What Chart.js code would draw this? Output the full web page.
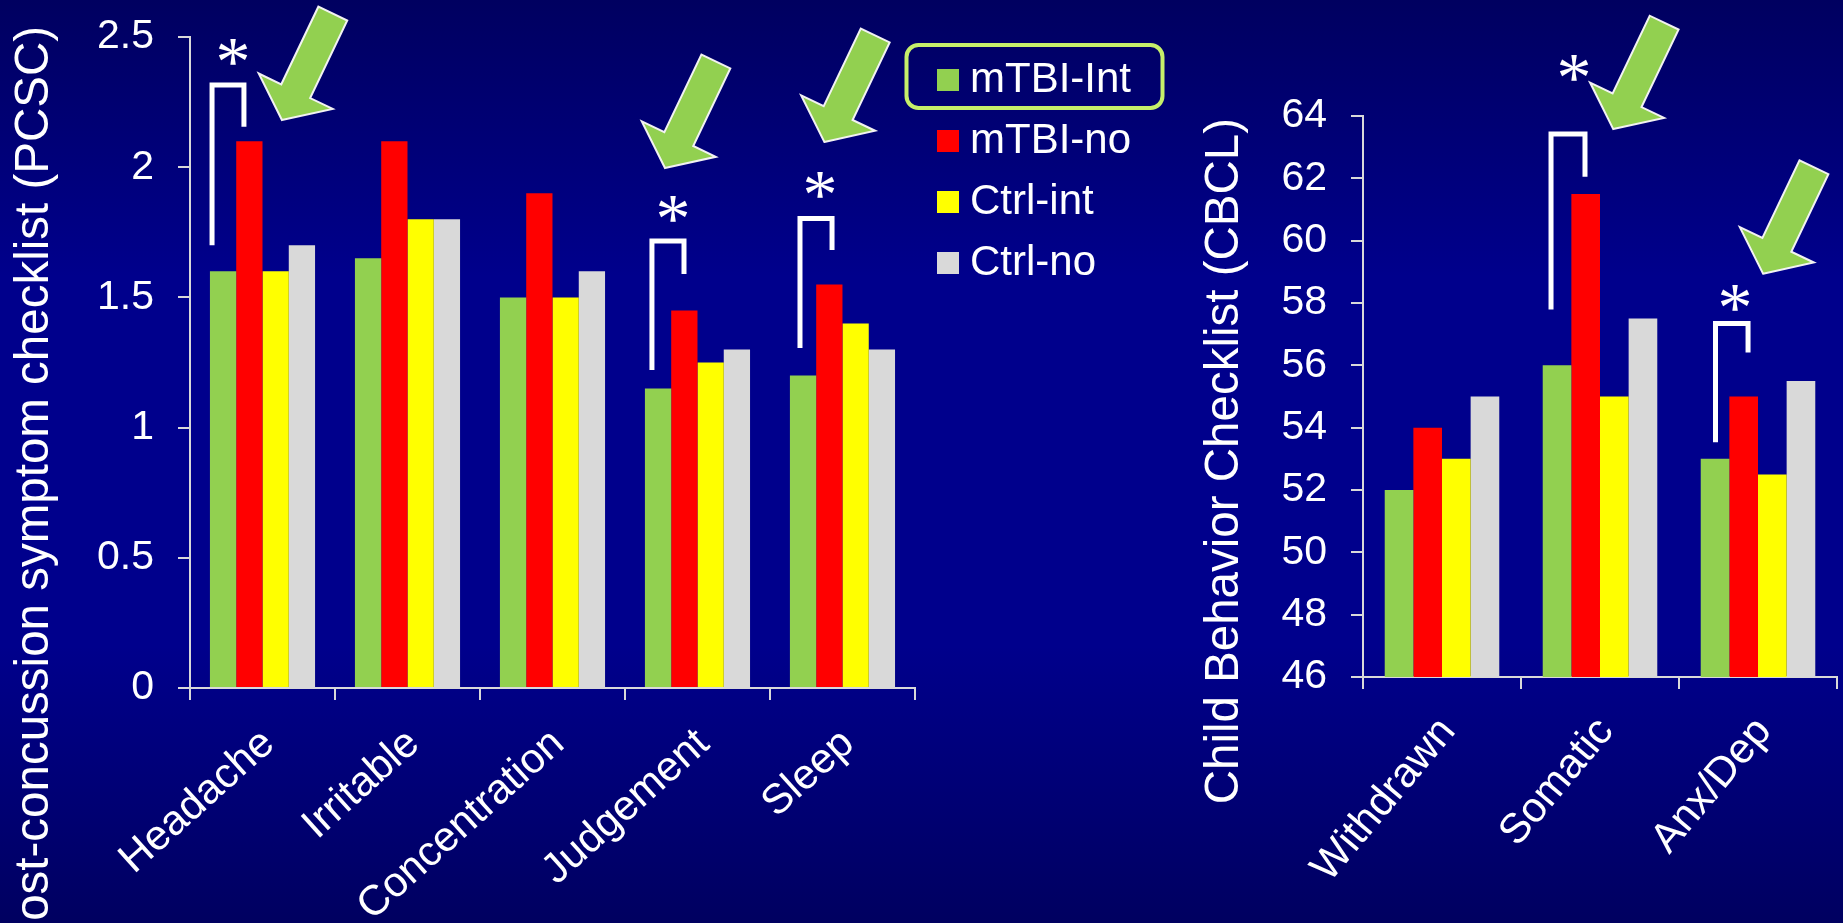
<!DOCTYPE html>
<html>
<head>
<meta charset="utf-8">
<title>PCSC and CBCL</title>
<script src="https://cdn.jsdelivr.net/npm/chart.js"></script>
<style>
  html, body { margin: 0; height: 100%; overflow: hidden; }
  body { width: 1843px; height: 923px; position: relative;
         background: linear-gradient(to bottom, #000060 0%, #00008c 30%, #00008c 70%, #000060 100%); }
  canvas { position: absolute; top: 0; }
</style>
</head>
<body>
<canvas id="pcsc" width="1180" height="923" style="left:0"></canvas>
<canvas id="cbcl" width="653" height="923" style="left:1190px"></canvas>
<script>
const seriesNames = ['mTBI-Int', 'mTBI-no', 'Ctrl-int', 'Ctrl-no'];
const seriesColors = ['#92d050', '#ff0000', '#ffff00', '#d9d9d9'];

const pcscCategories = ['Headache', 'Irritable', 'Concentration', 'Judgement', 'Sleep'];
const pcscMtbiInt = [1.6, 1.65, 1.5, 1.15, 1.2];
const pcscMtbiNo = [2.1, 2.1, 1.9, 1.45, 1.55];
const pcscCtrlInt = [1.6, 1.8, 1.5, 1.25, 1.4];
const pcscCtrlNo = [1.7, 1.8, 1.6, 1.3, 1.3];

const cbclCategories = ['Withdrawn', 'Somatic', 'Anx/Dep'];
const cbclMtbiInt = [52, 56, 53];
const cbclMtbiNo = [54, 61.5, 55];
const cbclCtrlInt = [53, 55, 52.5];
const cbclCtrlNo = [55, 57.5, 55.5];

// annotations, in data units: pos = category index + fraction of a category
const pcscBrackets = [
    { left: -0.348, right: -0.128, top: 2.316, leftEnd: 1.70, rightEnd: 2.155 },
    { left: 2.686, right: 2.907, top: 1.717, leftEnd: 1.221, rightEnd: 1.59 },
    { left: 3.707, right: 3.928, top: 1.803, leftEnd: 1.306, rightEnd: 1.682 },
];
const pcscStars = [{ pos: -0.203, val: 2.431 }, { pos: 2.831, val: 1.828 }, { pos: 3.845, val: 1.92 }];
const pcscArrows = [{ pos: 0.134, val: 2.181 }, { pos: 2.776, val: 1.997 }, { pos: 3.875, val: 2.097 }];

const cbclBrackets = [
    { left: 0.69, right: 0.905, top: 63.42, leftEnd: 57.79, rightEnd: 62.05 },
    { left: 1.731, right: 1.937, top: 57.34, leftEnd: 53.53, rightEnd: 56.41 },
];
const cbclStars = [{ pos: 0.835, val: 65.44 }, { pos: 1.854, val: 58.08 }];
const cbclArrows = [{ pos: 1.084, val: 63.58 }, { pos: 2.032, val: 58.94 }];

const fontName = '"Liberation Sans", Arial, sans-serif';
const white = '#ffffff';
const axisColor = '#d9d9d9';

// brackets, asterisks, arrows, the axis title and the box around the first legend row
const overlayPlugin = {
    id: 'overlay',
    afterLayout(chart, args, opts) {
        if (opts.legendLeft) {
            const lg = chart.legend;
            lg.left = opts.legendLeft;
            lg.right = lg.left + lg.width;
            lg.top = opts.legendTop;
        }
    },
    afterDraw(chart, args, opts) {
        const ctx = chart.ctx;
        const xs = chart.scales.x;
        const ys = chart.scales.y;
        const catWidth = xs.getPixelForValue(1) - xs.getPixelForValue(0);
        const px = pos => xs.getPixelForValue(0) + pos * catWidth;
        const py = val => ys.getPixelForValue(val);

        ctx.save();
        ctx.strokeStyle = white;
        ctx.lineWidth = 5;
        ctx.lineJoin = 'miter';
        opts.brackets.forEach(b => {
            ctx.beginPath();
            ctx.moveTo(px(b.left), py(b.leftEnd));
            ctx.lineTo(px(b.left), py(b.top));
            ctx.lineTo(px(b.right), py(b.top));
            ctx.lineTo(px(b.right), py(b.rightEnd));
            ctx.stroke();
        });

        ctx.fillStyle = white;
        ctx.font = '70px "Liberation Serif", serif';
        ctx.textAlign = 'center';
        ctx.textBaseline = 'alphabetic';
        opts.stars.forEach(s => {
            ctx.fillText('*', px(s.pos), py(s.val) + 30);
        });

        opts.arrows.forEach(a => {
            ctx.save();
            ctx.translate(px(a.pos), py(a.val));
            ctx.rotate(Math.atan2(0.43, 0.9));
            ctx.beginPath();
            ctx.moveTo(0, 0);
            ctx.lineTo(41, -32);
            ctx.lineTo(16, -32);
            ctx.lineTo(16, -118);
            ctx.lineTo(-16, -118);
            ctx.lineTo(-16, -32);
            ctx.lineTo(-41, -32);
            ctx.closePath();
            ctx.fillStyle = '#92d050';
            ctx.fill();
            ctx.strokeStyle = '#f2f2f2';
            ctx.lineWidth = 2;
            ctx.stroke();
            ctx.restore();
        });

        ctx.translate(opts.titleX, opts.titleTop);
        ctx.rotate(-Math.PI / 2);
        ctx.font = '47.5px ' + fontName;
        ctx.fillStyle = white;
        ctx.textAlign = 'right';
        ctx.textBaseline = 'middle';
        ctx.fillText(opts.title, 0, 0);
        ctx.restore();

        if (opts.legendLeft) {
            const lg = chart.legend;
            ctx.save();
            ctx.strokeStyle = '#c6ef6a';
            ctx.lineWidth = 4;
            ctx.beginPath();
            ctx.roundRect(lg.left - 21.5, lg.top + 5, 256, 63, 12);
            ctx.stroke();
            ctx.restore();
        }
    }
};

function barDatasets(values) {
    return values.map((vals, i) => ({
        label: seriesNames[i],
        data: vals,
        backgroundColor: seriesColors[i],
        categoryPercentage: 0.725,
        barPercentage: 1,
    }));
}

function makeChart(id, categories, values, yMin, yMax, yStep, xHeight, yWidth, padding, rotation, showLegend, overlay) {
    return new Chart(document.getElementById(id), {
        type: 'bar',
        data: { labels: categories, datasets: barDatasets(values) },
        plugins: [overlayPlugin],
        options: {
            responsive: false,
            animation: false,
            layout: { padding: padding },
            plugins: {
                tooltip: { enabled: false },
                overlay: overlay,
                legend: {
                    display: showLegend,
                    position: 'right',
                    align: 'start',
                    labels: {
                        color: white,
                        font: { family: fontName, size: 42 },
                        usePointStyle: true,
                        pointStyle: 'rect',
                        boxWidth: 2,
                        boxHeight: 22,
                        padding: 19,
                    },
                },
            },
            scales: {
                x: {
                    afterFit(scale) {
                        scale.height = xHeight;
                        scale.paddingLeft = 0;
                        scale.paddingRight = 0;
                    },
                    border: { color: axisColor, width: 2 },
                    grid: { drawOnChartArea: false, color: axisColor, lineWidth: 2, tickLength: 12 },
                    ticks: {
                        color: white,
                        font: { family: fontName, size: 42 },
                        minRotation: rotation,
                        maxRotation: rotation,
                        autoSkip: false,
                        padding: 19,
                        labelOffset: 6,
                    },
                },
                y: {
                    min: yMin,
                    max: yMax,
                    afterFit(scale) {
                        scale.width = yWidth;
                        scale.paddingTop = 0;
                        scale.paddingBottom = 0;
                    },
                    border: { color: axisColor, width: 2 },
                    grid: { drawOnChartArea: false, color: axisColor, lineWidth: 2, tickLength: 12 },
                    ticks: {
                        stepSize: yStep,
                        color: white,
                        font: { family: fontName, size: 41 },
                        padding: 24,
                        callback: value => String(value),
                    },
                },
            },
        },
    });
}

makeChart('pcsc', pcscCategories, [pcscMtbiInt, pcscMtbiNo, pcscCtrlInt, pcscCtrlNo],
    0, 2.5, 0.5, 235, 190, { top: 37, right: 52, left: 0, bottom: 0 }, 42, true, {
        brackets: pcscBrackets,
        stars: pcscStars,
        arrows: pcscArrows,
        title: 'Post-concussion symptom checklist (PCSC)',
        titleX: 35,
        titleTop: 26,
        legendLeft: 928,
        legendTop: 40,
    });

makeChart('cbcl', cbclCategories, [cbclMtbiInt, cbclMtbiNo, cbclCtrlInt, cbclCtrlNo],
    46, 64, 2, 246, 173, { top: 116, right: 6, left: 0, bottom: 0 }, 50, false, {
        brackets: cbclBrackets,
        stars: cbclStars,
        arrows: cbclArrows,
        title: 'Child Behavior Checklist (CBCL)',
        titleX: 35,
        titleTop: 118,
    });
</script>
</body>
</html>
